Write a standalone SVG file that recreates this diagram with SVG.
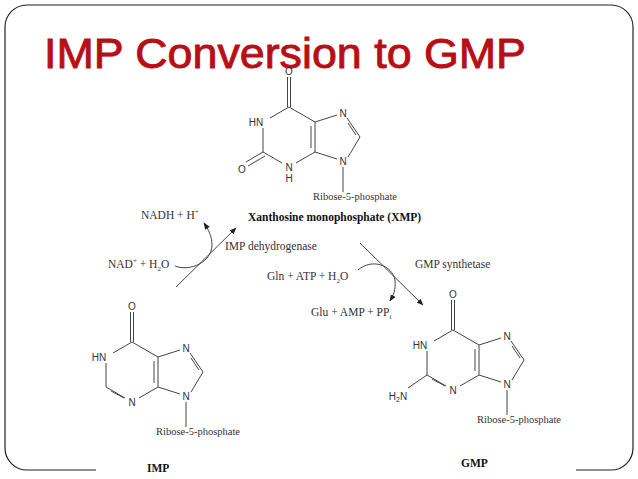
<svg xmlns="http://www.w3.org/2000/svg" width="638" height="479" viewBox="0 0 638 479">
<defs>
<style>
.b{stroke:#444;stroke-width:1;fill:none}
.a{font-family:"Liberation Sans",Arial,sans-serif;font-size:10px;fill:#333;text-anchor:middle;dominant-baseline:central}
.t{font-family:"Liberation Serif","Times New Roman",serif;font-size:11.5px;fill:#333}
.bd{font-weight:bold;fill:#111}
</style>
<marker id="ah" viewBox="0 0 10 10" refX="9" refY="5" markerWidth="7" markerHeight="7" orient="auto-start-reverse"><path d="M0,1 L10,5 L0,9 z" fill="#222"/></marker>
<g id="core">
<path class="b" d="M-1.5,-30V0M1.5,-30V0M0,0L-19,11M-26,21V45M-26,45L-7,56M7,56L26,45M26,45V15M22,19V41M26,15L0,0M26,15L48,8M58,11L71,30M59,16L67,28M71,30L59,50M48,52L26,45M54,60V85"/>
<text class="a" x="0" y="-36">O</text>
<text class="a" x="-33" y="15">HN</text>
<text class="a" x="0" y="60">N</text>
<text class="a" x="54" y="6">N</text>
<text class="a" x="54" y="54">N</text>
<text class="t" x="24" y="93" style="font-size:10.5px">Ribose-5-phosphate</text>
</g>
</defs>
<rect x="5" y="5" width="628" height="465" rx="22" fill="#fff" stroke="#222" stroke-width="1.2"/>
<rect x="96" y="462" width="480" height="12" fill="#fff"/>
<text x="44" y="68" textLength="482" lengthAdjust="spacingAndGlyphs" style="font-family:'Liberation Sans',Arial,sans-serif;font-size:42px;fill:#B80F16;stroke:#B80F16;stroke-width:0.9">IMP Conversion to GMP</text>
<g id="xmp" transform="translate(289,107)">
<use href="#core"/>
<path class="b" d="M-26,45L-43,55M-24,49L-41,59"/>
<text class="a" x="-47" y="62">O</text>
<text class="a" x="0" y="71">H</text>
</g>
<g id="xmp-label"><text class="t bd" x="248" y="221">Xanthosine monophosphate (XMP)</text></g>
<g id="imp" transform="translate(132,342)">
<use href="#core"/>
<path class="b" d="M-21,49L-8,56"/>
<text class="t bd" x="15" y="130">IMP</text>
</g>
<g id="gmp" transform="translate(453,330)">
<use href="#core"/>
<path class="b" d="M-21,49L-8,56M-26,45L-45,58"/>
<text class="a" x="-55" y="66">H<tspan font-size="7" dy="3">2</tspan><tspan dy="-3">N</tspan></text>
<text class="t bd" x="8" y="137">GMP</text>
</g>
<g id="connectors">
<path class="b" stroke="#222" d="M176,287L236,228" marker-end="url(#ah)"/>
<path class="b" stroke="#222" d="M175,266C190,272 212,262 212,245C212,236 208,229 204,223" marker-end="url(#ah)"/>
<path class="b" stroke="#222" d="M360,243L423,305" marker-end="url(#ah)"/>
<path class="b" stroke="#222" d="M358,270C372,258 392,265 395,280C396,290 393,296 390,301" marker-end="url(#ah)"/>
</g>
<g id="labels">
<text class="t" x="141" y="219">NADH + H<tspan font-size="7" dy="-5">+</tspan></text>
<text class="t" x="108" y="268">NAD<tspan font-size="7" dy="-5">+</tspan><tspan dy="5"> + H</tspan><tspan font-size="7" dy="3">2</tspan><tspan dy="-3">O</tspan></text>
<text class="t" x="225" y="250">IMP dehydrogenase</text>
<text class="t" x="415" y="268">GMP synthetase</text>
<text class="t" x="267" y="280">Gln + ATP + H<tspan font-size="7" dy="3">2</tspan><tspan dy="-3">O</tspan></text>
<text class="t" x="311" y="316">Glu + AMP + PP<tspan font-size="7" dy="3">i</tspan></text>
</g>
</svg>
